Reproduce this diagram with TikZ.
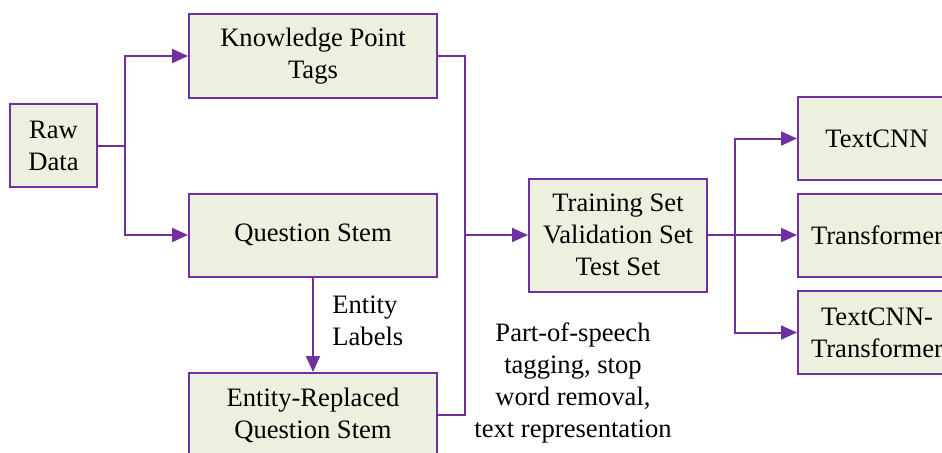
\documentclass[tikz,border=0pt]{standalone}
\usepackage{fontspec}
\setmainfont{Liberation Serif}
\usetikzlibrary{arrows.meta,positioning}
\definecolor{flowpurple}{HTML}{7030A0}
\definecolor{boxgreen}{HTML}{EBF1DE}
\tikzset{
    stagebox/.style={
        draw=flowpurple,
        fill=boxgreen,
        line width=1pt,
        align=center,
        inner sep=2pt,
        font=\fontsize{13.3}{16}\selectfont
    },
    flowline/.style={
        draw=flowpurple,
        line width=1pt
    },
    flowarrow/.style={
        flowline,
        -{Triangle[length=8pt,width=7pt]}
    },
    notetext/.style={
        font=\fontsize{13.3}{16}\selectfont,
        inner sep=0pt
    }
}

\begin{document}
\begin{tikzpicture}[x=0.5pt,y=-0.5pt]
    \clip (0,0) rectangle (942,452);
    \node [stagebox, minimum width=43.5pt, minimum height=41.5pt] (raw) at (53.5,145.5) {Raw\\Data};
    \node [stagebox, minimum width=124pt, minimum height=42pt] (kpt) at (313,56) {Knowledge Point\\Tags};
    \node [stagebox, minimum width=124pt, minimum height=41.5pt] (stem) at (313,235) {Question Stem};
    \node [stagebox, minimum width=124pt, minimum height=42pt] (replaced) at (313,415) {Entity-Replaced\\Question Stem};
    \node [stagebox, minimum width=89pt, minimum height=56.5pt] (sets) at (618,235) {Training Set\\Validation Set\\Test Set};
    \node [stagebox, minimum width=79pt, minimum height=41.5pt] (cnn) at (877,138.5) {TextCNN};
    \node [stagebox, minimum width=79pt, minimum height=41.5pt] (trans) at (877,235) {Transformer};
    \node [stagebox, minimum width=79pt, minimum height=41.5pt] (hybrid) at (877,332.5) {TextCNN-\\Transformer};

    \node [notetext, anchor=west, align=left] (entlabel) at (332,321) {Entity\\Labels};
    \node [notetext, align=center] (prep) at (573,383) {Part-of-speech\\tagging, stop\\word removal,\\text representation};

    \coordinate (splitraw) at (125,145.5);
    \coordinate (mergeleft) at (465,235);
    \coordinate (splitsets) at (735,235);

    \draw [flowline] (raw.east) -- (splitraw);
    \draw [flowarrow] (splitraw) |- (kpt.west);
    \draw [flowarrow] (splitraw) |- (stem.west);
    \draw [flowarrow] (stem.south) -- (replaced.north);
    \draw [flowline] (kpt.east) -| (mergeleft);
    \draw [flowline] (replaced.east) -| (mergeleft);
    \draw [flowarrow] (mergeleft) -- (sets.west);
    \draw [flowline] (sets.east) -- (splitsets);
    \draw [flowarrow] (splitsets) |- (cnn.west);
    \draw [flowarrow] (splitsets) -- (trans.west);
    \draw [flowarrow] (splitsets) |- (hybrid.west);
\end{tikzpicture}
\end{document}
